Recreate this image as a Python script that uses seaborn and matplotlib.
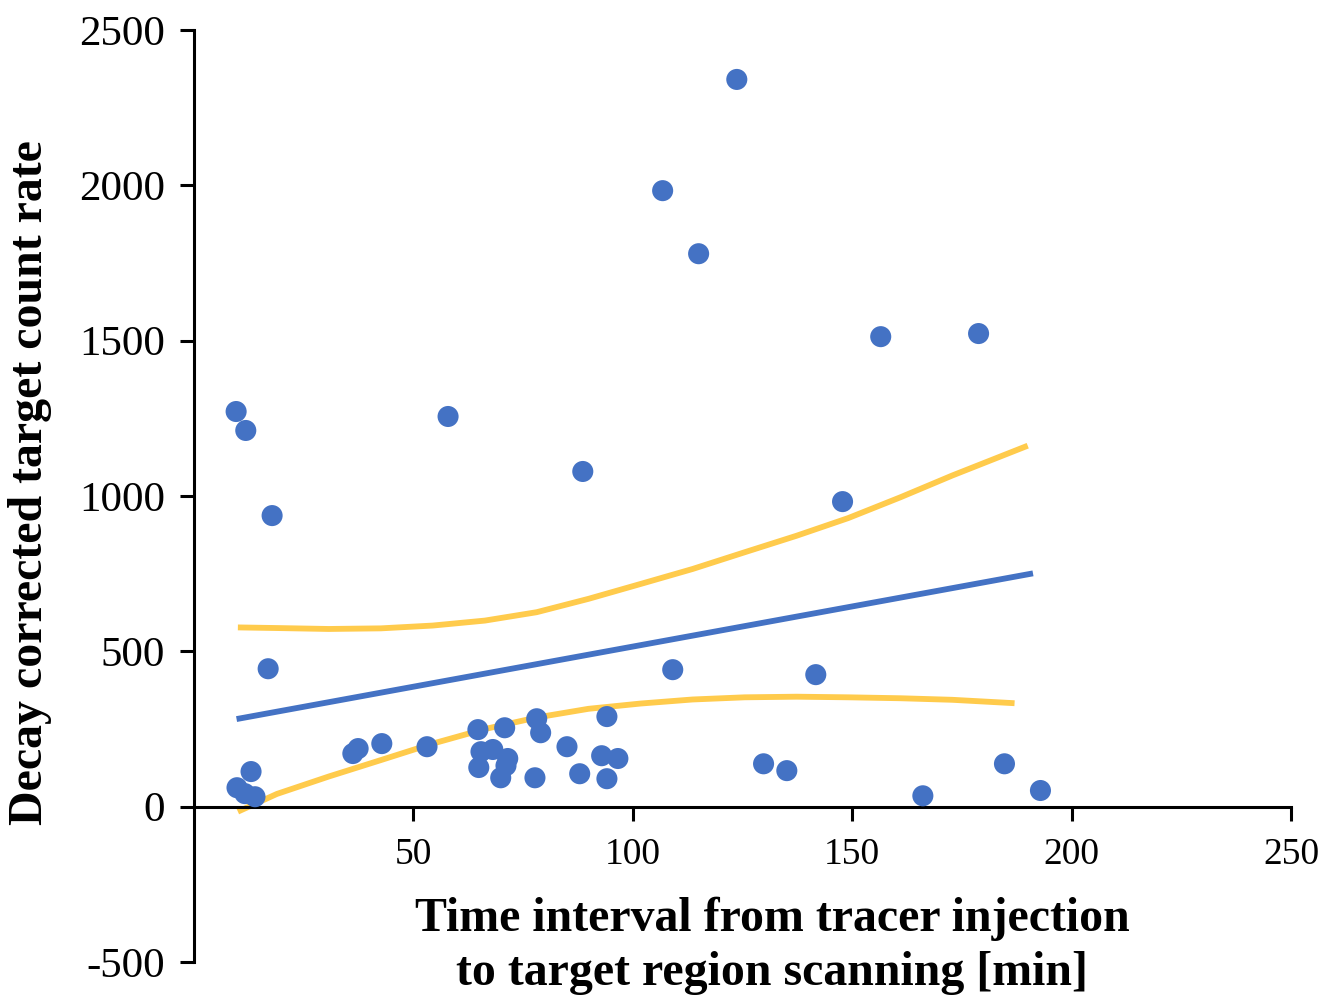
import numpy as np
import pandas as pd
import matplotlib
matplotlib.use("Agg")
import matplotlib.pyplot as plt
import seaborn as sns

# Scatter data
time_min = [9.6, 11.8, 17.8, 16.9,
            9.8, 13.0, 13.9, 11.6,
            36.2, 37.4, 42.8, 53.1, 64.7, 70.8, 78.1, 79.0, 65.4, 68.1, 71.5,
            64.9, 69.9, 71.1, 77.7, 85.0, 94.1, 92.9, 96.6, 87.9, 94.1,
            106.8, 115.0, 123.7, 156.5, 178.8, 147.8, 88.6, 57.9, 141.7, 109.1,
            129.8, 135.1, 166.1, 184.7, 192.9]
count_rate = [1272, 1211, 937, 444,
              61, 113, 32, 42,
              171, 187, 203, 193, 248, 254, 283, 238, 177, 184, 155,
              126, 93, 132, 93, 193, 290, 164, 155, 106, 90,
              1983, 1780, 2341, 1513, 1523, 982, 1079, 1256, 425, 441,
              138, 116, 35, 138, 52]

# Regression line and confidence bounds
fit_x = [9.7, 191.2]
fit_y = [282, 751]
upper_x = [10.0, 18.9, 30.7, 42.6, 54.4, 66.3, 78.1, 89.9, 101.8, 113.6,
           125.5, 137.3, 149.1, 161.0, 172.8, 190.0]
upper_y = [577, 575, 572, 574, 583, 599, 626, 669, 717, 765,
           819, 872, 929, 996, 1066, 1162]
lower_x = [10.0, 18.9, 30.7, 42.6, 54.4, 66.3, 78.1, 89.9, 101.8, 113.6,
           125.5, 137.3, 149.1, 161.0, 172.8, 187.0]
lower_y = [-16, 41, 97, 150, 203, 250, 287, 315, 332, 345,
           352, 354, 352, 349, 344, 333]

x_ticks = [50, 100, 150, 200, 250]
y_ticks = [-500, 0, 500, 1000, 1500, 2000, 2500]

df = pd.DataFrame({"t": time_min, "c": count_rate})
fit = pd.DataFrame({"t": fit_x, "v": fit_y})
upper = pd.DataFrame({"t": upper_x, "v": upper_y})
lower = pd.DataFrame({"t": lower_x, "v": lower_y})

sns.set_style("white")
plt.rcParams["font.family"] = ["Liberation Serif", "DejaVu Serif"]
plt.rcParams["text.color"] = "black"
plt.rcParams["xtick.color"] = "black"
plt.rcParams["ytick.color"] = "black"

fig = plt.figure(figsize=(13.37, 10.05), dpi=100)
ax = fig.add_axes([0.1451, 0.0428, 0.8205, 0.9273])

blue = "#4472C4"
gold = "#FFCB4C"

line_kw = dict(lw=4.2, solid_capstyle="butt", solid_joinstyle="round", zorder=2)
sns.lineplot(data=upper, x="t", y="v", ax=ax, color=gold, **line_kw)
sns.lineplot(data=lower, x="t", y="v", ax=ax, color=gold, **line_kw)
sns.lineplot(data=fit, x="t", y="v", ax=ax, color=blue, **line_kw)
sns.scatterplot(data=df, x="t", y="c", ax=ax, color=blue, s=230, edgecolor="none", zorder=3)

ax.spines["top"].set_visible(False)
ax.spines["right"].set_visible(False)
ax.spines["bottom"].set_position(("data", 0))
for sp in ("left", "bottom"):
    ax.spines[sp].set_linewidth(2.2)
    ax.spines[sp].set_color("black")

ax.set_xlim(0, 250)
ax.set_ylim(-500, 2500)
ax.set_xticks(x_ticks)
ax.set_yticks(y_ticks)
ax.set_xticklabels([str(v) for v in x_ticks])
ax.set_yticklabels([str(v) for v in y_ticks])
ax.tick_params(axis="both", which="major", direction="out", length=10, width=2.2,
               color="black", labelcolor="black", bottom=True, left=True)
ax.tick_params(axis="x", labelsize=27, pad=12)
ax.tick_params(axis="y", labelsize=31, pad=11)

ax.set_xlabel("")
ax.set_ylabel("")
fig.text(0.5774, 0.0587, "Time interval from tracer injection\nto target region scanning [min]",
         ha="center", va="center", fontsize=34.5, fontweight="bold", linespacing=1.3)
fig.text(0.0224, 0.520, "Decay corrected target count rate", ha="center", va="center",
         rotation=90, fontsize=34.5, fontweight="bold")

fig.savefig("out.png", dpi=100)
